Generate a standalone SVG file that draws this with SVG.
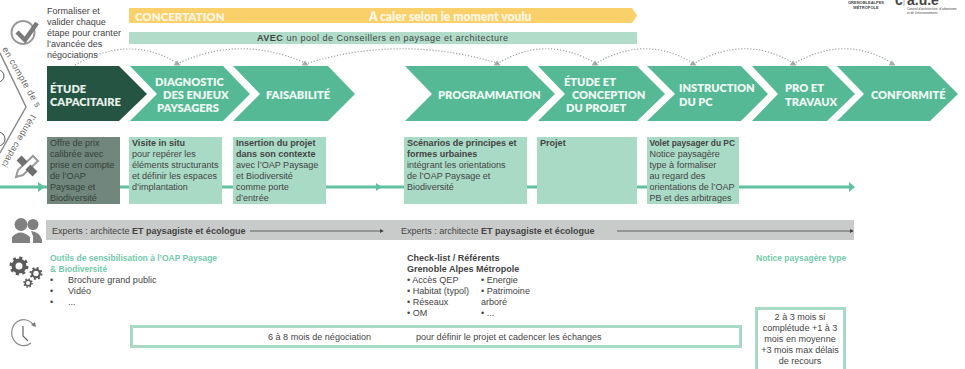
<svg xmlns="http://www.w3.org/2000/svg" width="965" height="369" viewBox="0 0 965 369">
<defs>
<marker id="ga" markerUnits="userSpaceOnUse" markerWidth="7" markerHeight="7" refX="3.500" refY="3.500" orient="0"><path d="M0 6L3.500 1L7 6z" fill="#a3aca7"/></marker>
<marker id="dk" markerWidth="5" markerHeight="5" refX="4" refY="2.500" orient="auto"><path d="M0 0L5 2.500L0 5z" fill="#444"/></marker>
</defs>
<style>
text{font-family:"Liberation Sans",Arial,sans-serif;font-size:9.05px;fill:#444}
.b{font-weight:700}
.s{font-family:Lato,"Open Sans",sans-serif;font-size:11.1px;font-weight:800;fill:#eef7f3}
.y{font-family:Lato,"Open Sans",sans-serif;font-weight:800;fill:#fdf6e2}
.g{fill:#55b996}
.l{fill:#a9dac6}
.c{fill:none;stroke:#98a29d;stroke-width:1.200;stroke-dasharray:1.200 1.800}
.t{font-size:8.5px;font-weight:700;fill:#74c9ac}
.i{fill:#808080}
.f{fill:none;stroke:#a9dac6;stroke-width:3}
.r{fill:none;stroke:#5a5a5a}
</style>
<g id="logos">
<text x="866" y="4" text-anchor="middle" class="b" style="font-size:4px">GRENOBLEALPES</text>
<text x="866" y="9" text-anchor="middle" class="b" style="font-size:4px">MÉTROPOLE</text>
<text x="895" y="5" class="b" style="font-size:14px">c</text><path d="M904 0V6" stroke="#666" stroke-width=".5"/>
<text x="907" y="5" class="b" style="font-size:14px">a.u.e</text>
<text x="907" y="10" style="font-size:3.2px">Conseil d'architecture, d'urbanisme</text>
<text x="907" y="14" style="font-size:3.2px">et de l'environnement</text>
</g>
<g id="validation">
<circle cx="23" cy="32.500" r="11.500" fill="none" stroke="#999" stroke-width="2"/>
<path d="M17 32L25 40L37 23" fill="none" stroke="#7a7a7a" stroke-width="4.500"/>
<text x="47" y="14">Formaliser et</text><text x="47" y="25">valider chaque</text><text x="47" y="36">étape pour cranter</text><text x="47" y="47">l’avancée des</text><text x="47" y="58">négociations</text>
</g>
<g id="concertation">
<path d="M129 8H632L637 15.500L632 23H129z" fill="#fad06a"/>
<text x="135" y="21" class="y" style="font-size:11.500px">CONCERTATION</text>
<text x="369" y="21" class="y" style="font-size:12.100px">A caler selon le moment voulu</text>
</g>
<g id="pool"><rect x="129" y="32" width="508" height="12" fill="#b0dcc9"/>
<text x="257" y="41" style="letter-spacing:.48px"><tspan class="b">AVEC</tspan> un pool de Conseillers en paysage et architecture</text></g>
<g id="n1"><path d="M47 66H119L147 94L119 121H47z" fill="#265443"/><text x="50" y="93" class="s" style="fill:#e4efe9">ÉTUDE</text><text x="50" y="106" class="s" style="fill:#e4efe9">CAPACITAIRE</text></g>
<g id="n2"><path d="M130 66H223L250 94L223 121H130L157 94z" class="g"/><text x="155" y="86" class="s">DIAGNOSTIC</text><text x="163" y="99" class="s">DES ENJEUX</text><text x="157" y="112" class="s">PAYSAGERS</text></g>
<g id="n3"><path d="M233 66H328L355 94L328 121H233L260 94z" class="g"/><text x="266" y="99" class="s">FAISABILITÉ</text></g>
<g id="n4"><path d="M405 66H527L555 94L527 121H405L432 94z" class="g"/><text x="438" y="99" class="s">PROGRAMMATION</text></g>
<g id="n5"><path d="M538 66H637L665 94L637 121H538L565 94z" class="g"/><text x="564" y="86" class="s">ÉTUDE ET</text><text x="572" y="99" class="s">CONCEPTION</text><text x="566" y="112" class="s">DU PROJET</text></g>
<g id="n6"><path d="M647 66H741L768 94L741 121H647L675 94z" class="g"/><text x="679" y="92" class="s">INSTRUCTION</text><text x="679" y="106" class="s">DU PC</text></g>
<g id="n7"><path d="M752 66H827L855 94L827 121H752L778 94z" class="g"/><text x="785" y="92" class="s">PRO ET</text><text x="785" y="106" class="s">TRAVAUX</text></g>
<g id="n8"><path d="M837 66H930L958 94L930 121H837L864 94z" class="g"/><text x="871" y="99" class="s">CONFORMITÉ</text></g>
<g id="d1"><rect x="47" y="137" width="73" height="67" fill="#71867c"/><text y="146" style="fill:#34423b"><tspan x="50">Offre de prix</tspan><tspan x="50" dy="11">calibrée avec</tspan><tspan x="50" dy="11">prise en compte</tspan><tspan x="50" dy="11">de l’OAP</tspan><tspan x="50" dy="11">Paysage et</tspan><tspan x="50" dy="11">Biodiversité</tspan></text></g>
<g id="d2"><rect x="129" y="137" width="93" height="67" class="l"/><text y="146"><tspan x="132" class="b">Visite in situ</tspan><tspan x="132" dy="11">pour repérer les</tspan><tspan x="132" dy="11">éléments structurants</tspan><tspan x="132" dy="11">et définir les espaces</tspan><tspan x="132" dy="11">d’implantation</tspan></text></g>
<g id="d3"><rect x="233" y="137" width="93" height="67" class="l"/><text y="146"><tspan x="236" class="b">Insertion du projet</tspan><tspan x="236" dy="11" class="b">dans son contexte</tspan><tspan x="236" dy="11">avec l’OAP Paysage</tspan><tspan x="236" dy="11">et Biodiversité</tspan><tspan x="236" dy="11">comme porte</tspan><tspan x="236" dy="11">d’entrée</tspan></text></g>
<g id="d4"><rect x="404" y="137" width="123" height="67" class="l"/><text y="146"><tspan x="407" class="b">Scénarios de principes et</tspan><tspan x="407" dy="11" class="b">formes urbaines</tspan><tspan x="407" dy="11">intégrant les orientations</tspan><tspan x="407" dy="11">de l’OAP Paysage et</tspan><tspan x="407" dy="11">Biodiversité</tspan></text></g>
<g id="d5"><rect x="537" y="137" width="100" height="67" class="l"/><text x="540" y="146" class="b">Projet</text></g>
<g id="d6"><rect x="647" y="137" width="92" height="67" class="l"/><text y="146"><tspan x="649.500" class="b" style="font-size:8.400px">Volet paysager du PC</tspan><tspan x="649.500" dy="11">Notice paysagère</tspan><tspan x="649.500" dy="11">type à formaliser</tspan><tspan x="649.500" dy="11">au regard des</tspan><tspan x="649.500" dy="11">orientations de l’OAP</tspan><tspan x="649.500" dy="11">PB et des arbitrages</tspan></text></g>
<g id="experts"><rect x="46" y="220" width="808" height="20" fill="#c9cbca"/>
<text x="52" y="234">Experts : architecte <tspan class="b">ET paysagiste et écologue</tspan></text>
<text x="401" y="234">Experts : architecte <tspan class="b">ET paysagiste et écologue</tspan></text></g>
<g id="connectors">
<g class="c">
<path d="M75 65Q130 34 177 63" marker-end="url(#ga)"/><path d="M177 64Q240 34 305 63" marker-end="url(#ga)"/><path d="M305 64Q400 34 497 63" marker-end="url(#ga)"/><path d="M497 64Q545 34 595 63" marker-end="url(#ga)"/><path d="M595 64Q645 34 693 63" marker-end="url(#ga)"/><path d="M693 64Q745 34 793 63" marker-end="url(#ga)"/><path d="M793 64Q845 34 892 63" marker-end="url(#ga)"/>
</g>
<path d="M0 187H47M120 187H129M222 187H233M326 187H404M527 187H537M637 187H647M739 187H851" stroke="#60c09f" stroke-width="3" fill="none"/>
<path d="M38 182L45 187L38 192z" fill="#60c09f"/><path d="M376 183L382 187L376 191z" fill="#60c09f"/><path d="M849 182L855 187L849 192z" fill="#60c09f"/>
<path d="M250 231H383" stroke="#444" stroke-width=".8" marker-end="url(#dk)"/>
<path d="M617 231H853" stroke="#444" stroke-width=".8" marker-end="url(#dk)"/>
</g>
<g id="people"><circle cx="21" cy="224.500" r="6.500" class="i"/><circle cx="33" cy="224.500" r="5.500" class="i"/><path d="M12 243V237Q20 228 30 237V243zM31 231Q40 232 42 240V243H33V236z" class="i"/></g>
<g id="pencil"><path d="M16 177L18 170L33 156L38 161L23 175z" fill="none" stroke="#9a9a9a" stroke-width="2"/><path d="M19 158L25 164M28 167L35 174" stroke="#6f6f6f" stroke-width="7"/></g>
<g id="gears">
<circle cx="19" cy="266" r="5.500" class="r" stroke-width="4"/><circle cx="19" cy="266" r="8" class="r" stroke-width="3" stroke-dasharray="3 3.280"/>
<circle cx="36" cy="273.500" r="3.800" class="r" stroke-width="2.200"/><circle cx="36" cy="273.500" r="5.500" class="r" stroke-width="2" stroke-dasharray="2 2.320"/>
<circle cx="28" cy="283" r="2.800" class="r" stroke-width="1.600"/><circle cx="28" cy="283" r="4" class="r" stroke-width="1.600" stroke-dasharray="1.500 1.640"/>
</g>
<g id="clock"><path d="M34 326A12 13 0 1 0 31 343" fill="none" stroke="#8a8a8a" stroke-width="1.200"/><path d="M31 325L36 327L35 322z" fill="#777"/><path d="M23 326V336L28 341" fill="none" stroke="#666" stroke-width="1.200"/></g>
<g id="tools"><text x="50" y="261" class="t">Outils de sensibilisation à l’OAP Paysage</text><text x="50" y="272" class="t">&amp; Biodiversité</text>
<text x="50" y="283">•</text><text x="68" y="283">Brochure grand public</text><text x="50" y="294">•</text><text x="68" y="294">Vidéo</text><text x="50" y="305">•</text><text x="68" y="305">...</text></g>
<g id="checklist"><text x="407" y="261" class="b">Check-list / Référents</text><text x="407" y="272" class="b">Grenoble Alpes Métropole</text>
<text x="407" y="283">• Accès QEP</text><text x="407" y="294">• Habitat (typol)</text><text x="407" y="305">• Réseaux</text><text x="407" y="316">• OM</text>
<text x="481" y="283">• Energie</text><text x="481" y="294">• Patrimoine</text><text x="481" y="305">arboré</text><text x="481" y="316">• ...</text></g>
<g id="notice"><text x="756" y="261" class="t">Notice paysagère type</text></g>
<g id="negociation"><rect x="131.500" y="326.500" width="609" height="20" class="f"/><text x="268" y="340">6 à 8 mois de négociation</text><text x="416" y="340">pour définir le projet et cadencer les échanges</text></g>
<g id="delai"><path d="M756.500 369V308.500H844.500V369" class="f"/><g text-anchor="middle"><text x="800" y="320">2 à 3 mois si</text><text x="800" y="331">complétude +1 à 3</text><text x="800" y="342">mois en moyenne</text><text x="800" y="353">+3 mois max délais</text><text x="800" y="364">de recours</text></g></g>
<g id="diamond"><path d="M0 53L26 107L0 153" fill="none" stroke="#8b8b8b" stroke-width="1.500"/>
<circle cx="-2" cy="76" r="6" fill="none" stroke="#555"/><circle cx="-2" cy="139" r="7" fill="none" stroke="#555"/>
<text x="2" y="49" transform="rotate(60 2 49)" style="font-size:9px;letter-spacing:.5px;fill:#666">en compte de s</text>
<text x="31" y="114" transform="rotate(120 31 114)" style="font-size:9px;letter-spacing:.3px;fill:#666">l’étude capaci</text></g>
</svg>
